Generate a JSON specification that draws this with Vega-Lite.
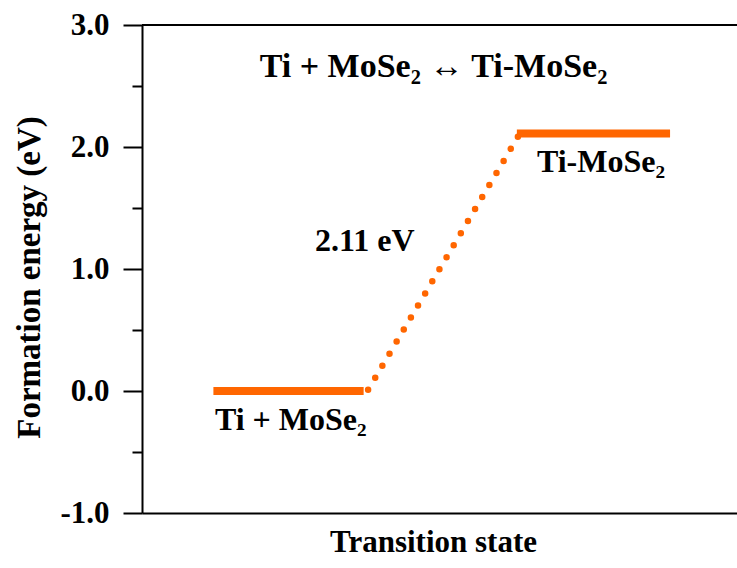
{
  "$schema": "https://vega.github.io/schema/vega-lite/v6.json",
  "width": 595,
  "height": 488,
  "autosize": "none",
  "padding": {"left": 142, "top": 25, "right": 0, "bottom": 55},
  "background": "white",
  "config": {
    "view": {"stroke": null},
    "font": "Liberation Serif",
    "axis": {"labelFont": "Liberation Serif", "titleFont": "Liberation Serif", "labelColor": "black", "titleColor": "black", "labelFontWeight": "bold", "titleFontWeight": "bold", "domainColor": "black", "tickColor": "black", "domainWidth": 2, "tickWidth": 2, "grid": false}
  },
  "datasets": {
    "levels": [
      {"state": "Ti + MoSe2", "x": 0.48, "x2": 1.49, "energy": 0},
      {"state": "Ti-MoSe2", "x": 2.52, "x2": 3.55, "energy": 2.11}
    ],
    "path": [
      {"x": 1.52, "energy": 0.01},
      {"x": 2.53, "energy": 2.09}
    ],
    "titles": [
      {"text": "Ti + MoSe₂ ↔ Ti-MoSe₂", "x": 1.96, "energy": 2.57}
    ],
    "labels": [
      {"text": "Ti-MoSe₂", "x": 2.655, "energy": 1.795},
      {"text": "Ti + MoSe₂", "x": 0.49, "energy": -0.32},
      {"text": "2.11 eV", "x": 1.163, "energy": 1.148}
    ],
    "frame": [{"energy": 3}]
  },
  "layer": [
    {
      "data": {"name": "frame"},
      "mark": {"type": "rule", "color": "black", "strokeWidth": 2},
      "encoding": {
        "y": {"field": "energy", "type": "quantitative", "scale": {"domain": [-1, 3], "nice": false, "zero": false},
          "axis": {"title": "Formation energy (eV)", "titleFontSize": 33, "titleX": -96, "titleY": 252, "labelFontSize": 31, "labelPadding": 14,
            "values": [-1, -0.5, 0, 0.5, 1, 1.5, 2, 2.5, 3],
            "labelExpr": "datum.value % 1 == 0 ? (datum.value < 0 ? '-' + format(abs(datum.value), '.1f') : format(datum.value, '.1f')) : ''",
            "tickSize": {"condition": {"test": "datum.value % 1 != 0", "value": 10}, "value": 19}}
        }
      }
    },
    {
      "data": {"name": "levels"},
      "mark": {"type": "rule", "color": "#FF6600", "strokeWidth": 8, "strokeCap": "butt"},
      "encoding": {
        "x": {"field": "x", "type": "quantitative", "scale": {"domain": [0, 4], "nice": false, "zero": false},
          "axis": {"title": "Transition state", "titleFontSize": 31, "titlePadding": 14, "titleX": 291, "labels": false, "ticks": false}},
        "x2": {"field": "x2"},
        "y": {"field": "energy", "type": "quantitative"}
      }
    },
    {
      "data": {"name": "path"},
      "mark": {"type": "line", "color": "#FF6600", "strokeWidth": 6.5, "strokeCap": "round", "strokeDash": [0, 14]},
      "encoding": {
        "x": {"field": "x", "type": "quantitative"},
        "y": {"field": "energy", "type": "quantitative"}
      }
    },
    {
      "data": {"name": "titles"},
      "mark": {"type": "text", "font": "Liberation Serif", "fontWeight": "bold", "color": "black", "baseline": "alphabetic", "align": "center", "fontSize": 34},
      "encoding": {
        "x": {"field": "x", "type": "quantitative"},
        "y": {"field": "energy", "type": "quantitative"},
        "text": {"field": "text"}
      }
    },
    {
      "data": {"name": "labels"},
      "mark": {"type": "text", "font": "Liberation Serif", "fontWeight": "bold", "color": "black", "baseline": "alphabetic", "align": "left", "fontSize": 32},
      "encoding": {
        "x": {"field": "x", "type": "quantitative"},
        "y": {"field": "energy", "type": "quantitative"},
        "text": {"field": "text"}
      }
    }
  ]
}
